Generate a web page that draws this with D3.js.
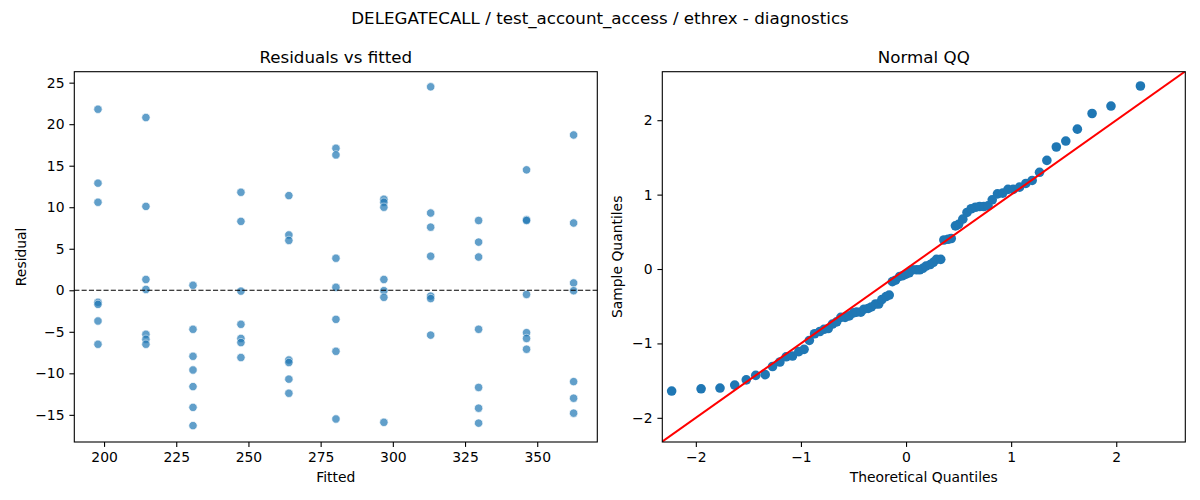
<!DOCTYPE html>
<html>
<head>
<meta charset="utf-8">
<script src="https://cdn.jsdelivr.net/npm/d3@7"></script>
<style>
  body { margin: 0; background: #fff; }
  svg { display: block; font-family: "DejaVu Sans", sans-serif; }
</style>
</head>
<body>
<svg id="chart" width="1200" height="500"></svg>
<script>
// fitted values (one column of points each) and the residuals read at each
const fittedLevels = [197.9, 214.5, 230.8, 247.4, 264.0, 280.3, 296.9, 313.1, 329.7, 346.3, 362.6];
const residualGroups = [
    [21.8, 12.9, 10.6, -1.45, -1.7, -3.7, -6.5],
    [20.8, 10.1, 1.3, 0.1, -5.3, -5.9, -6.5],
    [0.6, -4.7, -7.95, -9.6, -11.6, -14.1, -16.3],
    [11.8, 8.3, -0.1, -4.1, -5.8, -6.3, -8.1],
    [11.4, 6.66, 6.0, -8.4, -8.7, -10.7, -12.4],
    [17.1, 16.3, 3.86, 0.36, -3.5, -7.35, -15.5],
    [10.96, 10.6, 10.0, 1.3, -0.05, -0.85, -15.9],
    [24.5, 9.3, 7.6, 4.1, -0.7, -1.0, -5.4],
    [8.4, 5.8, 4.0, -4.7, -11.7, -14.2, -16.0],
    [14.5, 8.5, 8.4, -0.5, -5.1, -5.8, -7.1],
    [18.7, 8.1, 0.88, -0.05, -11.0, -13.0, -14.8]
];

// normal QQ points
const qqTheoretical = [
    -2.23, -1.95, -1.77, -1.63, -1.52, -1.43, -1.34, -1.27, -1.20, -1.14,
    -1.08, -1.02, -0.97, -0.92, -0.87, -0.82, -0.78, -0.74, -0.70, -0.66,
    -0.62, -0.58, -0.54, -0.50, -0.47, -0.43, -0.40, -0.36, -0.33, -0.29,
    -0.26, -0.23, -0.19, -0.16, -0.13, -0.10, -0.06, -0.03, 0.00,
    0.03, 0.06, 0.10, 0.13, 0.16, 0.19, 0.23, 0.26, 0.29, 0.33,
    0.36, 0.40, 0.43, 0.47, 0.50, 0.54, 0.58, 0.62, 0.66, 0.70,
    0.74, 0.78, 0.82, 0.87, 0.92, 0.97, 1.02, 1.08, 1.14, 1.20,
    1.27, 1.34, 1.43, 1.52, 1.63, 1.77, 1.95, 2.23
];
const qqSample = [
    -1.64, -1.61, -1.60, -1.56, -1.49, -1.43, -1.42, -1.31, -1.25, -1.18,
    -1.17, -1.11, -1.08, -0.96, -0.87, -0.84, -0.81, -0.80, -0.74, -0.71,
    -0.65, -0.65, -0.63, -0.59, -0.58, -0.58, -0.54, -0.53, -0.51, -0.47,
    -0.47, -0.41, -0.37, -0.35, -0.17, -0.15, -0.10, -0.09, -0.07,
    -0.05, -0.01, -0.01, -0.01, 0.01, 0.04, 0.06, 0.09, 0.13, 0.13,
    0.39, 0.40, 0.41, 0.58, 0.60, 0.67, 0.76, 0.81, 0.83, 0.84,
    0.84, 0.85, 0.93, 1.01, 1.02, 1.07, 1.07, 1.10, 1.15, 1.19,
    1.30, 1.46, 1.64, 1.72, 1.88, 2.09, 2.19, 2.46
];

const fittedTicks = [200, 225, 250, 275, 300, 325, 350];
const residualTicks = [-15, -10, -5, 0, 5, 10, 15, 20, 25];
const qqTicks = [-2, -1, 0, 1, 2];

const svg = d3.select('#chart');
const plotTop = 71.7, plotBottom = 442;
const left1 = 74.3, right1 = 597.3;
const left2 = 662.3, right2 = 1185.3;
const blue = '#1f77b4';
const intFmt = d3.format('d');

// suptitle
svg.append('text')
    .attr('x', 600).attr('y', 24)
    .attr('text-anchor', 'middle')
    .style('font-size', '16.7px')
    .text('DELEGATECALL / test_account_access / ethrex - diagnostics');

function styleAxis(g) {
    g.selectAll('.domain').remove();
    g.selectAll('.tick line').attr('stroke', '#000').attr('stroke-width', 1.1);
    g.selectAll('.tick text').attr('fill', '#000').style('font-size', '13.9px').style('font-family', '"DejaVu Sans", sans-serif');
}

function drawFrame(x0, x1, title, xLabel, yLabel, yLabelX) {
    svg.append('text')
        .attr('x', (x0 + x1) / 2).attr('y', plotTop - 9)
        .attr('text-anchor', 'middle')
        .style('font-size', '16.7px')
        .text(title);

    svg.append('text')
        .attr('x', (x0 + x1) / 2).attr('y', 482)
        .attr('text-anchor', 'middle')
        .style('font-size', '13.9px')
        .text(xLabel);

    svg.append('text')
        .attr('transform', `translate(${yLabelX},${(plotTop + plotBottom) / 2}) rotate(-90)`)
        .attr('text-anchor', 'middle')
        .style('font-size', '13.9px')
        .text(yLabel);
}

function drawBorder(x0, x1) {
    svg.append('rect')
        .attr('x', x0).attr('y', plotTop)
        .attr('width', x1 - x0).attr('height', plotBottom - plotTop)
        .attr('fill', 'none')
        .attr('stroke', '#000')
        .attr('stroke-width', 1.1);
}

// ---- Residuals vs fitted ----
const x1Scale = d3.scaleLinear().domain([189.7, 370.8]).range([left1, right1]);
const y1Scale = d3.scaleLinear().domain([-18.27, 26.32]).range([plotBottom, plotTop]);

svg.append('g')
    .attr('transform', `translate(0,${plotBottom})`)
    .call(d3.axisBottom(x1Scale).tickValues(fittedTicks).tickFormat(intFmt).tickSize(4.9).tickPadding(4.9))
    .call(styleAxis);

svg.append('g')
    .attr('transform', `translate(${left1},0)`)
    .call(d3.axisLeft(y1Scale).tickValues(residualTicks).tickFormat(intFmt).tickSize(4.9).tickPadding(4.9))
    .call(styleAxis);

const residualPoints = [];
fittedLevels.forEach((f, i) => {
    residualGroups[i].forEach(r => residualPoints.push({ fitted: f, resid: r }));
});

svg.append('g')
    .selectAll('circle')
    .data(residualPoints)
    .enter()
    .append('circle')
    .attr('cx', d => x1Scale(d.fitted))
    .attr('cy', d => y1Scale(d.resid))
    .attr('r', 4.2)
    .attr('fill', blue)
    .attr('stroke', '#fff')
    .attr('stroke-width', 0.7)
    .attr('opacity', 0.7);

svg.append('line')
    .attr('x1', left1).attr('x2', right1)
    .attr('y1', y1Scale(0)).attr('y2', y1Scale(0))
    .attr('stroke', '#000')
    .attr('stroke-width', 1.1)
    .attr('stroke-dasharray', '5.1,2.2');

drawBorder(left1, right1);
drawFrame(left1, right1, 'Residuals vs fitted', 'Fitted', 'Residual', 26);

// ---- Normal QQ ----
const x2Scale = d3.scaleLinear().domain([-2.319, 2.657]).range([left2, right2]);
const y2Scale = d3.scaleLinear().domain([-2.325, 2.652]).range([plotBottom, plotTop]);

svg.append('g')
    .attr('transform', `translate(0,${plotBottom})`)
    .call(d3.axisBottom(x2Scale).tickValues(qqTicks).tickFormat(intFmt).tickSize(4.9).tickPadding(4.9))
    .call(styleAxis);

svg.append('g')
    .attr('transform', `translate(${left2},0)`)
    .call(d3.axisLeft(y2Scale).tickValues(qqTicks).tickFormat(intFmt).tickSize(4.9).tickPadding(4.9))
    .call(styleAxis);

svg.append('defs').append('clipPath')
    .attr('id', 'qqClip')
    .append('rect')
    .attr('x', left2).attr('y', plotTop)
    .attr('width', right2 - left2).attr('height', plotBottom - plotTop);

svg.append('g')
    .selectAll('circle')
    .data(qqTheoretical.map((t, i) => ({ t: t, s: qqSample[i] })))
    .enter()
    .append('circle')
    .attr('cx', d => x2Scale(d.t))
    .attr('cy', d => y2Scale(d.s))
    .attr('r', 4.8)
    .attr('fill', blue);

// 45 degree reference line
svg.append('line')
    .attr('clip-path', 'url(#qqClip)')
    .attr('x1', x2Scale(-3)).attr('y1', y2Scale(-3))
    .attr('x2', x2Scale(3)).attr('y2', y2Scale(3))
    .attr('stroke', 'red')
    .attr('stroke-width', 2);

drawBorder(left2, right2);
drawFrame(left2, right2, 'Normal QQ', 'Theoretical Quantiles', 'Sample Quantiles', 622);
</script>
</body>
</html>
